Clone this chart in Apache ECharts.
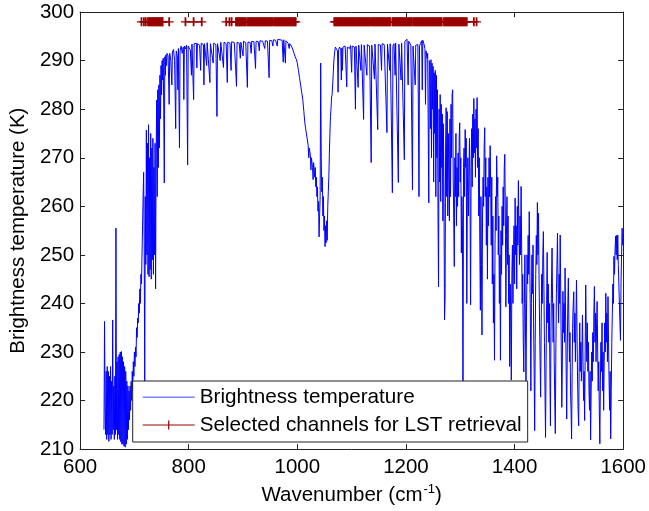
<!DOCTYPE html>
<html>
<head>
<meta charset="utf-8">
<script src="https://cdn.jsdelivr.net/npm/echarts@6/dist/echarts.min.js"></script>
<style>
html,body{margin:0;padding:0;background:#fff;}
#chart{width:649px;height:511px;}
</style>
</head>
<body>
<div id="chart"></div>
<script>
// ---- Data ----
const xTicks = [600, 800, 1000, 1200, 1400, 1600];
const yTicks = [210, 220, 230, 240, 250, 260, 270, 280, 290, 300];
const seriesNames = ['Brightness temperature', 'Selected channels for LST retrieval'];

// [wavenumber (cm-1), brightness temperature (K)]
const spectrumLow = [
[644,214],[645,236.3],[646,219],[647,213],[648,226],[649,212],[650,227],[651,213],[652,226],[653,211.6],
[654,225],[655,213],[656,227],[657,212],[658,224],[659,213],[660,236.6],[661,214],[662,223],[663,212],
[664,225],[665,213],[666,255.5],[667,214],[668,228],[669,212],[670,229],[671,213],[672,229.5],[673,212],
[674,230],[675,211.5],[676,230.1],[677,211],[678,229],[679,211],[680,228],[681,210.6],[682,227],[683,210.4],
[684,226],[685,211],[686,224],[687,212],[688,223],[689,214],[690,222],[691,216],[692,223],[693,218],
[694,224],[695,220],[696,226],[697,222],[698,228],[699,225],[700,230],[701,227],[702,231],[703,229],
[704,235],[705,233],[706,237],[707,236],[708,240],[709,238],[710,243],[711,240],[712,246],[713,244],
[714,250],[715,256],[716,262],[717,267],[718,253],[719,224]
];
const spectrumBand = [
[720,262],[721,248],[722,275.7],[723,250],[724,273],[725,246],[726,276.8],[727,245.5],[728,270],[729,247],
[730,275],[731,245],[732,272],[733,249],[734,274],[735,246],[736,268],[737,250],[738,273],[739,243],
[740,270],[741,281.9],[742,262],[743,284],[744,268],[745,285],[746,272],[747,287],[748,278],[749,289],
[750,283],[751,290],[752,286],[753,290.5],[754,280],[755,264.8],[756,290.8],[757,287],[758,291.2],[759,289],
[760,291.5]
];
const spectrumWindow1 = [
[762,291],[764,281],[765,291.5],[767,290],[769,285],[770,291.8],[772,292.3],[774,290],[776,276],[777,292],
[779,291],[780,284],[781,292.5],[783,272],[784,292],[786,293],[788,291.5],[790,292.8],[791,282],[792,293],
[794,292.4],[796,293.2],[798,268.5],[799,293],[801,293.3],[803,292.2],[805,287],[806,293.4],[808,293.5],[809,282],
[810,293.5],[812,293.2],[814,293.6],[815,288.5],[816,293.5],[818,293.8],[820,293.2],[822,288],[823,293.6],[825,293.7],
[827,293.3],[828,285],[829,293.5],[831,293.6],[833,289],[834,293.7],[836,293.3],[839,285.5],[840,293.5],[842,293.4],
[845,289.5],[846,293.6],[848,293.5],[850,293.3],[852,278.5],[853,293.5],[855,293.8],[858,290],[859,293.8],[861,293.9],
[864,288.6],[865,293.8],[867,294],[869,293.5],[871,285.5],[872,293.8],[874,294],[876,293.6],[878,288],[879,293.9],
[881,294],[884,293.7],[886,293.9],[888,284.7],[889,293.8],[891,294],[893,293.6],[895,290.5],[896,293.8],[898,294],
[900,291],[901,294],[903,294.1],[905,293.7],[908,284.5],[909,293.8],[911,294],[913,293.8],[915,291.5],[916,294],
[918,294.2],[920,293.9],[923,288.4],[924,294],[926,294.2],[928,293.9],[930,292],[931,294.1],[933,294.3],[936,294],
[938,294.2],[940,292.5],[941,294.1],[943,294.3],[945,294],[948,286.5],[949,294.2],[951,294.3],[953,294.1],[955,293],
[956,294.3],[958,294.4],[960,294.2],[962,294.5],[963,293],[964,294.4],[966,294.6],[968,294.3],[970,294.5],[972,294.2],
[974,289.7],[975,294.3],[977,294],[978,289.5],[979,294.1],[981,293.8],[983,293.6],[985,292.5],[986,293.5],[988,293.2],
[990,292.8],[992,292.4],[994,291.5],[996,290.8],[998,290.3]
];
const spectrumOzone = [
[1000,289.5],[1002,288],[1004,286.5],[1006,285],[1008,283.5],[1010,282],[1012,279.5],[1014,277],[1016,275.5],[1018,274],
[1020,272.5],[1021,270],[1022,272],[1024,270.5],[1025,267.5],[1026,270],[1028,268],[1029,265.5],[1030,269],[1032,266],
[1033,268],[1034,264],[1035,266],[1036,262],[1037,264],[1038,259],[1039,261],[1040,253.7],[1041,258],[1042,262],
[1043,289.5],[1044,270],[1045,263],[1046,266],[1047,258],[1048,262],[1049,255],[1050,258],[1051,251.7],[1052,256],
[1053,252.5],[1054,257],[1055,253],[1056,260],[1057,263],[1058,266],[1059,271],[1060,275],[1061,278.5],[1062,280],
[1063,282.5],[1064,283],[1065,285],[1066,287],[1067,289.5],[1068,291],[1069,292],[1070,292.8]
];
const spectrumWindow2 = [
[1072,292.5],[1074,292],[1075,283.5],[1076,292.3],[1078,292.8],[1080,292.2],[1081,286],[1082,292.6],[1083,288],[1084,292.8],
[1086,292.5],[1088,293],[1090,292.6],[1091,284.6],[1092,292.8],[1094,293],[1096,292.5],[1098,293.1],[1100,287.6],[1101,293],
[1103,293.2],[1105,292.8],[1107,280],[1108,293],[1110,293.3],[1112,284.5],[1113,293.2],[1115,293],[1117,288],[1118,293.3],
[1120,293.4],[1122,277.9],[1123,293.2],[1125,293.5],[1128,287],[1129,293.3],[1131,293.5],[1133,293],[1136,269],[1137,293.2],
[1139,293.5],[1142,286.2],[1143,293.4],[1145,293.6],[1148,275.8],[1149,293.3],[1151,293.5],[1153,293.2],[1155,288],[1156,293.5],
[1158,293.7],[1160,293.3],[1163,293.5],[1165,275.2],[1166,293.4],[1168,293.6],[1170,288],[1171,293.5],[1173,293.2],[1175,262.8],
[1176,293],[1178,293.5],[1180,287],[1181,293.6],[1183,293.3],[1186,264.9],[1187,293.4],[1189,293.7],[1191,286],[1192,293.6],
[1194,293.9],[1197,269.6],[1198,294],[1200,294.3],[1202,294.4],[1204,285],[1205,294],[1207,293.6],[1209,293.2],[1212,263.4],
[1213,293],[1215,293.4],[1217,285],[1218,293.2],[1220,292.8],[1222,293.3],[1224,262],[1225,293],[1227,293.6],[1229,294.1],
[1230,284],[1231,294.2],[1233,293.5],[1235,292.5],[1236,281],[1237,292],[1239,290.5],[1240,291.5],[1242,260.7],[1243,290]
];
const spectrumWater = [
[1244,289],[1245,276],[1246,290.2],[1247,270],[1248,289.5],[1249,280],[1250,288.8],[1251,265],[1252,287.5],[1253,275],
[1254,288],[1255,262],[1256,287],[1257,270],[1258,284],[1259,258],[1260,243.4],[1261,280],[1262,265],[1263,283],
[1264,261],[1265,281],[1266,268],[1267,279],[1268,257],[1269,277],[1270,262],[1271,236.6],[1272,241],[1273,272],
[1274,280.3],[1275,262],[1276,279.5],[1277,258],[1278,275],[1279,266],[1280,257],[1281,278],[1282,262],[1283,281],
[1284,270],[1285,283],[1286,284],[1287,266],[1288,257],[1289,247.6],[1290,270],[1291,262],[1292,275],[1293,256],
[1294,268],[1295,260],[1296,271],[1297,262],[1298,274],[1299,277.2],[1300,265],[1301,270],[1302,250.4],[1303,262],
[1304,256],[1305,215],[1306,268],[1307,272],[1308,262],[1309,275.8],[1310,268],[1311,274],[1312,240],[1313,262],
[1314,270],[1315,258],[1316,266],[1317,274],[1318,262],[1319,239.7],[1320,268],[1321,276],[1322,264],[1323,279],
[1324,270],[1325,282.2],[1326,271],[1327,278],[1328,266],[1329,280],[1330,272],[1331,282.4],[1332,268],[1333,276],
[1334,258],[1335,270],[1336,252],[1337,238.6],[1338,262],[1339,248],[1340,233.5],[1341,258],[1342,266],[1343,260],
[1344,272],[1345,276.2],[1346,262],[1347,270],[1348,252],[1349,264],[1350,245],[1351,266],[1352,256],[1353,270],
[1354,262],[1355,272.5],[1356,264],[1357,252],[1358,266],[1359,244],[1360,258],[1361,236],[1362,246],[1363,228.3],
[1364,252],[1365,262],[1366,255],[1367,270.4],[1368,262],[1369,266],[1370,250],[1371,258],[1372,240],[1373,250],
[1374,228.3],[1375,255],[1376,246],[1377,260],[1378,252],[1379,264],[1380,256],[1381,268],[1382,270.7],[1383,258],
[1384,239.3],[1385,254],[1386,262],[1387,248],[1388,258],[1389,240],[1390,250],[1391,227],[1392,244],[1393,236],
[1394,224.2],[1395,246],[1396,252],[1397,240],[1398,250],[1399,256],[1400,244],[1401,261.7],[1402,250],[1403,256],
[1404,243],[1405,260],[1406,252],[1407,265.3],[1408,255],[1409,248],[1410,258],[1411,250],[1412,264.1],[1413,252],
[1414,240],[1415,246],[1416,232],[1417,225.9],[1418,240],[1419,250],[1420,236],[1421,222.8],[1422,238],[1423,250],
[1424,244],[1425,254],[1426,246],[1427,258.9],[1428,248],[1429,238],[1430,222],[1431,240],[1432,250],[1433,242],
[1434,252],[1435,236],[1436,226],[1437,213.8],[1438,232],[1439,246],[1440,254],[1441,248],[1442,260.8],[1443,250],
[1444,258.6],[1445,246],[1446,236],[1447,228],[1448,220.7],[1449,236],[1450,246],[1451,240],[1452,250],[1453,254.8],
[1454,244],[1455,232],[1456,222],[1457,212.4],[1458,228],[1459,240],[1460,250.5],[1461,236],[1462,244],[1463,232],
[1464,240],[1465,226],[1466,214.8],[1467,234],[1468,244],[1469,251.4],[1470,240],[1471,232],[1472,240],[1473,228],
[1474,220],[1475,213.2],[1476,230],[1477,242],[1478,248],[1479,254.5],[1480,244],[1481,236],[1482,246],[1483,240],
[1484,254.1],[1485,242],[1486,230],[1487,218.6],[1488,228],[1489,242.5],[1490,234],[1491,240],[1492,232],[1493,247.3],
[1494,236],[1495,226],[1496,216.2],[1497,230],[1498,240],[1499,245.2],[1500,236],[1501,228],[1502,234],[1503,222],
[1504,218],[1505,212.1],[1506,226],[1507,236],[1508,240],[1509,242.4],[1510,232],[1511,238],[1512,228],[1513,236],
[1514,244.8],[1515,234],[1516,224],[1517,218],[1518,214.8],[1519,228],[1520,236],[1521,226],[1522,232],[1523,224],
[1524,230],[1525,237.6],[1526,228],[1527,220],[1528,226],[1529,215.9],[1530,230],[1531,243.8],[1532,234],[1533,228],
[1534,236],[1535,226],[1536,232],[1537,222],[1538,218],[1539,226],[1540,211.9],[1541,222],[1542,230],[1543,224],
[1544,234],[1545,228],[1546,238],[1547,243.5],[1548,232],[1549,238],[1550,228],[1551,236],[1552,240.4],[1553,230],
[1554,222],[1555,228],[1556,218],[1557,211.1],[1558,224],[1559,232],[1560,226],[1561,236],[1562,222],[1563,230],
[1564,218],[1565,228],[1566,236],[1567,230],[1568,242.1],[1569,232],[1570,238],[1571,228],[1572,241.4],[1573,232],
[1574,224],[1575,218],[1576,226],[1577,212.1],[1578,222],[1579,232],[1580,238],[1581,244],[1582,240],[1583,249.7],
[1584,246],[1585,251],[1586,253.9],[1587,250],[1588,254],[1589,249],[1590,254.1],[1591,248],[1592,244],[1593,240],
[1594,236],[1595,232.4],[1596,244],[1597,250],[1598,255.5],[1599,252]
];

// Selected channels (wavenumbers, cm-1), in visually connected groups
const channelsGroup1 = [713,717.5,721,725,727,729,731,733,735,737,739,741,743,745,747,749,751,752,764];
const channelsGroup2 = [794,809,824];
const channelsGroup3 = [869,875,879,887,889,891,893,895,897,899,901,903,905,
  908,910,912,914,916,918,920,922,924,926,928,930,932,934,936,938,940,942,944,946,948,950,952,954,
  957,959,961,963,965,967,969,971,973,975,977,979,981,983,985,987,989,991,993,995,997];
const channelsGroup4 = [1068,1070,1072,1074,1076,1078,1080,1082,1084,1086,1088,1090,1092,1094,1096,1098,1100,1102,1104,1106,
  1108,1110,1112,1114,1116,1118,1120,1122,1124,1126,1128,1130,1132,1134,
  1137,1139,1141,1143,1145,1147,1149,1151,1153,1155,1157,1159,1161,1163,1165,1167,1169,1171,
  1175,1177,1179,1181,1183,1185,1187,1189,1191,1193,1195,1197,1199,1201,1203,1205,1207,1209,1211,
  1214,1216,1218,1220,1222,1224,1226,1228,1230,1232,1234,1236,1238,1240,1242,1244,1246,1248,1250,1252,1254,1256,1258,1260,1262,1264,1266,
  1270,1272,1274,1276,1278,1280,1282,1284,1286,1288,1290,1292,1294,1296,1298,1300,1302,1304,1306,1308,1310,1312,
  1325,1330];
const channelMarkerLevel = 298; // K, height at which the selected channels are marked

// ---- Build series data ----
const spectrum = [].concat(spectrumLow, spectrumBand, spectrumWindow1, spectrumOzone, spectrumWindow2, spectrumWater);
const channelData = [];
[channelsGroup1, channelsGroup2, channelsGroup3, channelsGroup4].forEach(function (g, gi) {
  g.forEach(function (w) { channelData.push([w, channelMarkerLevel]); });
  if (gi < 3) channelData.push([g[g.length - 1] + 1, null]);
});

const FONT = '"Liberation Sans", Arial, Helvetica, sans-serif';
const plusPath = 'path://M0,3.9H9V5.1H0Z M3.6,0H5.4V9H3.6Z';
// legend icons (52 x 14 boxes): plain line, and line with a plus in the middle
const legendLineIcon = 'path://M0,0L0.01,0L0,0.01Z M52,14L51.99,14L52,13.99Z M0,6.6H52V7.4H0Z';
const legendPlusIcon = 'path://M0,0L0.01,0L0,0.01Z M52,14L51.99,14L52,13.99Z M0,6.5H52V7.5H0Z M25.4,2.5H26.6V11.5H25.4Z';

const chart = echarts.init(document.getElementById('chart'), null, {renderer: 'canvas'});
chart.setOption({
  animation: false,
  backgroundColor: '#ffffff',
  grid: {left: 72.6, right: 22, top: 12.1, bottom: 61.5, containLabel: false},
  legend: {
    data: [{name: seriesNames[0], icon: legendLineIcon}, {name: seriesNames[1], icon: legendPlusIcon}],
    orient: 'vertical',
    left: 132.7, top: 381,
    padding: [5.7, 6, 6.6, 10],
    itemGap: 6.7,
    itemWidth: 52, itemHeight: 14,
    backgroundColor: '#ffffff',
    borderColor: '#222', borderWidth: 1, borderRadius: 0,
    textStyle: {fontFamily: FONT, fontSize: 20.7, lineHeight: 20, color: '#000'}
  },
  xAxis: [{
    type: 'value', min: xTicks[0], max: xTicks[xTicks.length - 1], interval: 200,
    position: 'bottom',
    name: 'Wavenumber (cm{sup|-1})',
    nameLocation: 'middle', nameGap: 46,
    nameTextStyle: {fontFamily: FONT, fontSize: 20.5, color: '#000', verticalAlign: 'middle',
      rich: {sup: {fontFamily: FONT, fontSize: 13, color: '#000', verticalAlign: 'top', padding: [0, 0, 12, 1]}}},
    axisLine: {show: true, onZero: false, lineStyle: {color: '#222', width: 1}},
    axisTick: {show: true, inside: true, length: 5, lineStyle: {color: '#222'}},
    axisLabel: {fontFamily: FONT, fontSize: 20.5, color: '#000', margin: 8,
      formatter: function (v) { return String(v); }},
    splitLine: {show: false}
  }, {
    type: 'value', min: xTicks[0], max: xTicks[xTicks.length - 1], interval: 200,
    position: 'top',
    axisLine: {show: true, onZero: false, lineStyle: {color: '#222', width: 1}},
    axisTick: {show: true, inside: true, length: 5, lineStyle: {color: '#222'}},
    axisLabel: {show: false},
    splitLine: {show: false}
  }],
  yAxis: [{
    type: 'value', min: yTicks[0], max: yTicks[yTicks.length - 1], interval: 10,
    position: 'left',
    name: 'Brightness temperature (K)',
    nameLocation: 'middle', nameGap: 57,
    nameTextStyle: {fontFamily: FONT, fontSize: 20.5, color: '#000', verticalAlign: 'middle'},
    axisLine: {show: true, onZero: false, lineStyle: {color: '#222', width: 1}},
    axisTick: {show: true, inside: true, length: 5, lineStyle: {color: '#222'}},
    axisLabel: {fontFamily: FONT, fontSize: 20.5, color: '#000', margin: 6,
      formatter: function (v) { return String(v); }},
    splitLine: {show: false}
  }, {
    type: 'value', min: yTicks[0], max: yTicks[yTicks.length - 1], interval: 10,
    position: 'right',
    axisLine: {show: true, onZero: false, lineStyle: {color: '#222', width: 1}},
    axisTick: {show: true, inside: true, length: 5, lineStyle: {color: '#222'}},
    axisLabel: {show: false},
    splitLine: {show: false}
  }],
  series: [{
    name: seriesNames[0],
    type: 'line',
    xAxisIndex: 0, yAxisIndex: 0,
    data: spectrum,
    showSymbol: false, symbol: 'none',
    sampling: null,
    lineStyle: {color: '#0000ff', width: 1},
    itemStyle: {color: '#0000ff'},
    z: 2
  }, {
    name: seriesNames[1],
    type: 'line',
    xAxisIndex: 0, yAxisIndex: 0,
    data: channelData,
    connectNulls: false,
    showSymbol: true,
    symbol: plusPath,
    symbolSize: [9, 9],
    lineStyle: {color: '#990000', width: 1.2},
    itemStyle: {color: '#990000'},
    z: 3
  }]
});
</script>
</body>
</html>
